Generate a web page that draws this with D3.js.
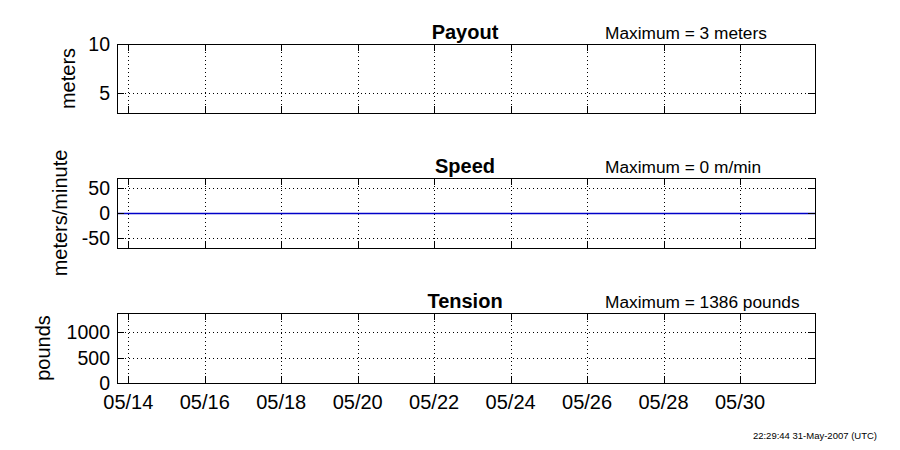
<!DOCTYPE html>
<html>
<head>
<meta charset="utf-8">
<script src="https://cdn.jsdelivr.net/npm/d3@7"></script>
<style>
  html, body { margin: 0; padding: 0; background: #fff; }
  svg { display: block; font-family: "Liberation Sans", Arial, Helvetica, sans-serif; }
</style>
</head>
<body>
<svg id="chart" width="900" height="450"></svg>
<script>
// ---- data ----
const timeDomain = ["2007-05-13T16:54:00Z", "2007-05-31T23:05:00Z"];
const tickDates = ["2007-05-14", "2007-05-16", "2007-05-18", "2007-05-20", "2007-05-22",
                   "2007-05-24", "2007-05-26", "2007-05-28", "2007-05-30"];
const sampleTimes = ["2007-05-13T16:54:00Z", "2007-05-31T23:05:00Z"];
const payoutValues = [3, 3];
const speedValues = [0, 0];
const tensionValues = [1386, 1386];
const panelTitles = ["Payout", "Speed", "Tension"];
const maxLabels = ["Maximum = 3 meters", "Maximum = 0 m/min", "Maximum = 1386 pounds"];
const yLabels = ["meters", "meters/minute", "pounds"];
const yDomains = [[3, 10], [-70, 70], [0, 1386]];
const yTicks = [[5, 10], [-50, 0, 50], [0, 500, 1000]];
const timestamp = "22:29:44 31-May-2007 (UTC)";

// ---- layout ----
const svg = d3.select("#chart");
const left = 117, right = 815;
const panels = [
  { top: 44, bottom: 113, labelX: 75, values: payoutValues },
  { top: 178, bottom: 248, labelX: 67, values: speedValues },
  { top: 313, bottom: 383, labelX: 50, values: tensionValues }
];
const tickLen = 7;

const x = d3.scaleUtc()
  .domain(timeDomain.map(d => new Date(d)))
  .range([left, right]);
const xTickVals = tickDates.map(d => new Date(d + "T00:00:00Z"));
const fmt = d3.utcFormat("%m/%d");
const times = sampleTimes.map(d => new Date(d));

panels.forEach((p, i) => {
  const g = svg.append("g");
  const y = d3.scaleLinear().domain(yDomains[i]).range([p.bottom, p.top]);
  const clipId = "clip" + i;
  svg.append("clipPath").attr("id", clipId)
    .append("rect").attr("x", left + 1).attr("y", p.top + 2.5)
    .attr("width", right - left - 1).attr("height", p.bottom - p.top - 4.5);

  // grid (dotted)
  const grid = g.append("g").attr("stroke", "#000").attr("stroke-width", 1)
    .attr("stroke-dasharray", "1,3").attr("shape-rendering", "crispEdges");
  xTickVals.forEach(t => {
    const xx = Math.round(x(t)) + 0.5;
    grid.append("line").attr("x1", xx).attr("x2", xx).attr("y1", p.top).attr("y2", p.bottom);
  });
  yTicks[i].forEach(v => {
    const yy = Math.round(y(v)) + 0.5;
    grid.append("line").attr("x1", left).attr("x2", right).attr("y1", yy).attr("y2", yy);
  });

  // data line
  const line = d3.line().x((d, k) => x(times[k])).y(d => Math.round(y(d)) + 0.5);
  g.append("path").datum(p.values)
    .attr("clip-path", `url(#${clipId})`)
    .attr("fill", "none").attr("stroke", "#0000c8").attr("stroke-width", 1.3)
    .attr("d", line);

  // ticks (inward, all four sides)
  const ticks = g.append("g").attr("stroke", "#000").attr("stroke-width", 1)
    .attr("shape-rendering", "crispEdges");
  xTickVals.forEach(t => {
    const xx = Math.round(x(t)) + 0.5;
    ticks.append("line").attr("x1", xx).attr("x2", xx).attr("y1", p.bottom).attr("y2", p.bottom - tickLen);
    ticks.append("line").attr("x1", xx).attr("x2", xx).attr("y1", p.top).attr("y2", p.top + tickLen);
  });
  yTicks[i].forEach(v => {
    const yy = Math.round(y(v)) + 0.5;
    ticks.append("line").attr("x1", left).attr("x2", left + tickLen).attr("y1", yy).attr("y2", yy);
    ticks.append("line").attr("x1", right).attr("x2", right - tickLen).attr("y1", yy).attr("y2", yy);
  });

  // frame
  g.append("rect").attr("x", left + 0.5).attr("y", p.top + 0.5)
    .attr("width", right - left).attr("height", p.bottom - p.top)
    .attr("fill", "none").attr("stroke", "#000").attr("stroke-width", 1)
    .attr("shape-rendering", "crispEdges");

  // y tick labels
  g.append("g").selectAll("text").data(yTicks[i]).join("text")
    .attr("x", 110).attr("y", d => y(d)).attr("dy", "0.35em")
    .attr("text-anchor", "end").attr("font-size", 19.5).text(d => d);

  // y label
  g.append("text")
    .attr("transform", `translate(${p.labelX},${(p.top + p.bottom) / 2}) rotate(-90)`)
    .attr("text-anchor", "middle").attr("font-size", 20).text(yLabels[i]);

  // title + maximum
  g.append("text").attr("x", (left + right) / 2 - 1).attr("y", p.top - 5)
    .attr("text-anchor", "middle").attr("font-size", 20).attr("font-weight", "bold")
    .text(panelTitles[i]);
  g.append("text").attr("x", 605).attr("y", p.top - 5)
    .attr("font-size", 17.3).text(maxLabels[i]);

  // x tick labels only on last panel
  if (i === panels.length - 1) {
    g.append("g").selectAll("text").data(xTickVals).join("text")
      .attr("x", d => x(d)).attr("y", p.bottom + 26)
      .attr("text-anchor", "middle").attr("font-size", 20).text(d => fmt(d));
  }
});

svg.append("text").attr("x", 877).attr("y", 439).attr("text-anchor", "end")
  .attr("font-size", 9.5).text(timestamp);
</script>
</body>
</html>
